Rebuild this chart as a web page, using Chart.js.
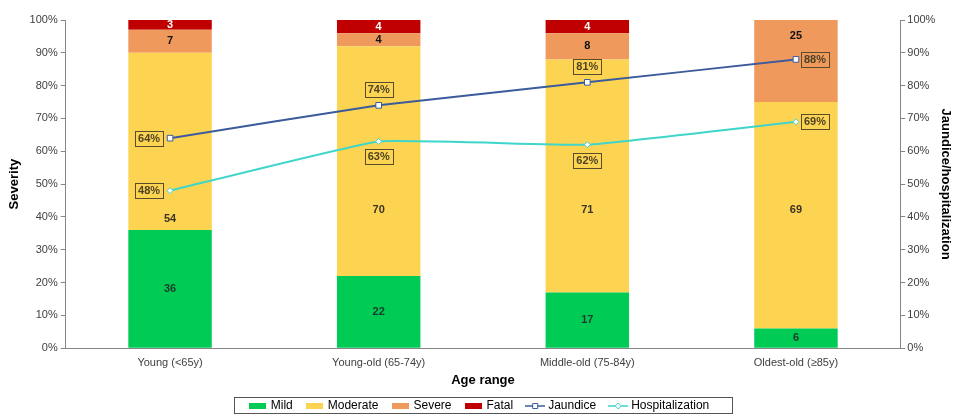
<!DOCTYPE html>
<html>
<head>
  <title>Severity by age range</title>
  <script src="https://cdn.jsdelivr.net/npm/chart.js"></script>
  <style>
    body { margin: 0; background: #fff; }
  </style>
</head>
<body>
  <canvas id="myChart" width="953" height="414"></canvas>

  <script>
    // Data
    const ageRanges = ['Young (<65y)', 'Young-old (65-74y)', 'Middle-old (75-84y)', 'Oldest-old (≥85y)'];
    const mild = [36, 22, 17, 6];
    const moderate = [54, 70, 71, 69];
    const severe = [7, 4, 8, 25];
    const fatal = [3, 4, 4, 0];
    const jaundice = [64, 74, 81, 88];
    const hospitalization = [48, 63, 62, 69];
    const percentTicks = [0, 10, 20, 30, 40, 50, 60, 70, 80, 90, 100];

    const FONT = "'Liberation Sans', Arial, sans-serif";
    const colors = {
      mild: '#00cc55',
      moderate: '#fdd451',
      severe: '#f0995c',
      fatal: '#c00000',
      jaundice: '#3c5b9c',
      hosp: '#3fd5ca'
    };

    // little pictures for the legend
    function barSwatch(color) {
      const c = document.createElement('canvas');
      c.width = 17; c.height = 6;
      const g = c.getContext('2d');
      g.fillStyle = color;
      g.fillRect(0, 0, 17, 6);
      return c;
    }
    function lineSwatch(color, marker) {
      const c = document.createElement('canvas');
      c.width = 20; c.height = 10;
      const g = c.getContext('2d');
      g.strokeStyle = color;
      g.lineWidth = 1.5;
      g.beginPath(); g.moveTo(0, 5); g.lineTo(20, 5); g.stroke();
      g.fillStyle = '#fff';
      g.lineWidth = 1;
      g.beginPath();
      if (marker === 'square') {
        g.rect(7.5, 2.5, 5, 5);
      } else {
        g.moveTo(10, 2); g.lineTo(13, 5); g.lineTo(10, 8); g.lineTo(7, 5); g.closePath();
      }
      g.fill(); g.stroke();
      return c;
    }

    // draws the count labels in the bars and the boxed % labels on the lines
    const labelPlugin = {
      id: 'labelPlugin',
      afterDatasetsDraw(chart, args, opts) {
        const ctx = chart.ctx;
        ctx.save();
        ctx.font = 'bold 11px ' + FONT;
        ctx.textAlign = 'center';
        ctx.textBaseline = 'middle';
        chart.data.datasets.forEach((ds, di) => {
          const meta = chart.getDatasetMeta(di);
          if (ds.type === 'bar') {
            meta.data.forEach((el, i) => {
              const v = ds.data[i];
              if (!v) return;
              let y = (el.y + el.base) / 2;
              const anchor = opts.barAnchors[di] && opts.barAnchors[di][i];
              if (anchor != null) y = chart.scales.y.getPixelForValue(anchor);
              ctx.fillStyle = ds.labelColor;
              ctx.fillText(String(v), el.x, y);
            });
          } else {
            meta.data.forEach((el, i) => {
              const txt = ds.data[i] + '%';
              const w = ctx.measureText(txt).width + 6;
              const h = 15;
              const pos = opts.linePlaces[di][i];
              let cx = el.x, cy = el.y;
              if (pos === 'left') cx = el.x - 7 - w / 2;
              if (pos === 'right') cx = el.x + 5 + w / 2;
              if (pos === 'above') cy = el.y - 8 - h / 2;
              if (pos === 'below') cy = el.y + 8 + h / 2;
              ctx.strokeStyle = '#5a4b2c';
              ctx.lineWidth = 1;
              ctx.strokeRect(Math.round(cx - w / 2) + 0.5, Math.round(cy - h / 2) + 0.5, Math.round(w), h);
              ctx.fillStyle = '#4d4226';
              ctx.fillText(txt, cx, cy + 0.5);
            });
          }
        });
        ctx.restore();
      }
    };

    // border round the legend
    const legendBox = {
      id: 'legendBox',
      afterDraw(chart) {
        const boxes = chart.legend.legendHitBoxes;
        if (!boxes || !boxes.length) return;
        const left = Math.min(...boxes.map(b => b.left));
        const right = Math.max(...boxes.map(b => b.left + b.width));
        const mid = boxes[0].top + boxes[0].height / 2;
        const ctx = chart.ctx;
        ctx.save();
        ctx.strokeStyle = '#555';
        ctx.lineWidth = 1;
        ctx.strokeRect(Math.round(left - 17) + 0.5, Math.round(mid - 9) + 0.5, Math.round(right - left + 40), 16);
        ctx.restore();
      }
    };

    const legendIcons = [
      barSwatch(colors.mild), barSwatch(colors.moderate), barSwatch(colors.severe), barSwatch(colors.fatal),
      lineSwatch(colors.jaundice, 'square'), lineSwatch(colors.hosp, 'diamond')
    ];

    function barSet(label, data, color, labelColor) {
      return {
        type: 'bar', label: label, data: data, backgroundColor: color,
        labelColor: labelColor, yAxisID: 'y', order: 2,
        categoryPercentage: 1, barPercentage: 0.4
      };
    }

    const axisColor = '#868686';
    const tickFont = { family: FONT, size: 11 };
    const titleFont = { family: FONT, size: 13, weight: 'bold' };

    var ctx = document.getElementById('myChart').getContext('2d');
    const myChart = new Chart(ctx, {
      data: {
        labels: ageRanges,
        datasets: [
          barSet('Mild', mild, colors.mild, '#1f3a2a'),
          barSet('Moderate', moderate, colors.moderate, '#3a3326'),
          barSet('Severe', severe, colors.severe, '#111'),
          barSet('Fatal', fatal, colors.fatal, '#fff'),
          {
            type: 'line', label: 'Jaundice', data: jaundice, yAxisID: 'y1', order: 1,
            borderColor: colors.jaundice, borderWidth: 2, tension: 0.1,
            pointStyle: 'rect', pointRadius: 4, pointBackgroundColor: '#fff',
            pointBorderColor: colors.jaundice, pointBorderWidth: 1
          },
          {
            type: 'line', label: 'Hospitalization', data: hospitalization, yAxisID: 'y1', order: 1,
            borderColor: colors.hosp, borderWidth: 2, tension: 0.1,
            pointStyle: 'rectRot', pointRadius: 3, pointBackgroundColor: '#fff',
            pointBorderColor: colors.hosp, pointBorderWidth: 1
          }
        ]
      },
      options: {
        responsive: false,
        animation: false,
        layout: { padding: { top: 20, left: 3, right: -4, bottom: -8 } },
        plugins: {
          tooltip: { enabled: false },
          legend: {
            position: 'bottom',
            labels: {
              usePointStyle: true,
              pointStyleWidth: 14,
              boxHeight: 10,
              padding: 15,
              color: '#000',
              font: { family: FONT, size: 12 },
              generateLabels: chart => chart.data.datasets.map((ds, i) => ({
                text: ds.label,
                pointStyle: legendIcons[i],
                fillStyle: 'transparent',
                strokeStyle: 'transparent',
                lineWidth: 0,
                hidden: false,
                datasetIndex: i
              }))
            }
          },
          labelPlugin: {
            barAnchors: { 1: [39.5, 42, 42, 42], 2: [null, null, null, 95] },
            linePlaces: {
              4: ['left', 'above', 'above', 'right'],
              5: ['left', 'below', 'below', 'right']
            }
          }
        },
        scales: {
          x: {
            stacked: true,
            grid: { display: false },
            border: { color: axisColor },
            ticks: { color: '#404040', font: tickFont, padding: 0 },
            title: { display: true, text: 'Age range', color: '#000', font: titleFont, padding: { top: 3, bottom: -3 } }
          },
          y: {
            stacked: true, min: 0, max: 100,
            afterBuildTicks: axis => { axis.ticks = percentTicks.map(v => ({ value: v })); },
            grid: { drawOnChartArea: false, drawTicks: true, tickLength: 5, color: axisColor },
            border: { color: axisColor },
            ticks: { color: '#404040', font: tickFont, padding: 3, callback: v => v + '%' },
            title: { display: true, text: 'Severity', color: '#000', font: titleFont }
          },
          y1: {
            position: 'right', min: 0, max: 100,
            afterBuildTicks: axis => { axis.ticks = percentTicks.map(v => ({ value: v })); },
            grid: { drawOnChartArea: false, drawTicks: true, tickLength: 5, color: axisColor },
            border: { color: axisColor },
            ticks: { color: '#404040', font: tickFont, padding: 2, callback: v => v + '%' },
            title: { display: true, text: 'Jaundice/hospitalization', color: '#000', font: titleFont, padding: { top: 4, bottom: 0 } }
          }
        }
      },
      plugins: [labelPlugin, legendBox]
    });
  </script>
</body>
</html>
